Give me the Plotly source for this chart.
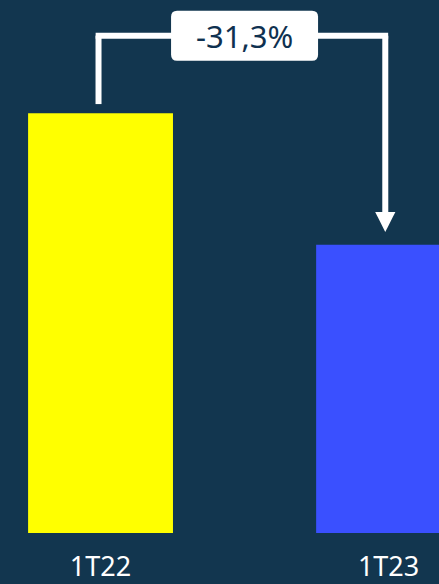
import plotly.graph_objects as go

categories = ["1T22", "1T23"]
values = [100.0, 68.7]
bar_colors = ["#FFFF00", "#3A50FF"]
change_label = "-31,3%"

BG = "#12364f"
WHITE = "#ffffff"
TEXT_DARK = "#0f3150"

ymax = values[0] * 1.27
line_top = values[0] * 1.185
left_start = values[0] * 1.022
tip = values[1] + 3.0
head_h = 4.8
head_hw = 0.035

fig = go.Figure()
fig.add_trace(go.Bar(
    x=[0, 1], y=values, marker=dict(color=bar_colors, line=dict(width=0)),
    width=0.503, hoverinfo="skip"))

line_style = dict(color=WHITE, width=6)
# connector: up from first bar, across, down to second bar
fig.add_shape(type="line", x0=-0.007, x1=-0.007, y0=left_start, y1=line_top, line=line_style)
fig.add_shape(type="line", x0=-0.017, x1=0.9985, y0=line_top, y1=line_top, line=line_style)
fig.add_shape(type="line", x0=0.9885, x1=0.9885, y0=line_top, y1=tip + head_h - 0.2, line=line_style)
fig.add_shape(type="path",
              path=f"M {0.9885-head_hw},{tip+head_h} L {0.9885+head_hw},{tip+head_h} L 0.9885,{tip} Z",
              fillcolor=WHITE, line=dict(width=0))

# rounded label box (pixel-sized, anchored at data point)
w, h, r = 147, 50, 6
hw, hh = w / 2, h / 2
box = (f"M {-hw+r},{-hh} L {hw-r},{-hh} Q {hw},{-hh} {hw},{-hh+r} "
       f"L {hw},{hh-r} Q {hw},{hh} {hw-r},{hh} L {-hw+r},{hh} Q {-hw},{hh} {-hw},{hh-r} "
       f"L {-hw},{-hh+r} Q {-hw},{-hh} {-hw+r},{-hh} Z")
fig.add_shape(type="path", xsizemode="pixel", ysizemode="pixel",
              xanchor=0.5, yanchor=line_top, path=box,
              fillcolor=WHITE, line=dict(width=0))
fig.add_annotation(x=0.5, y=line_top, text=change_label, showarrow=False,
                   font=dict(family="Noto Sans", size=31, color=TEXT_DARK),
                   xanchor="center", yanchor="middle")

fig.update_layout(
    width=439, height=584,
    margin=dict(l=0, r=0, t=0, b=51),
    paper_bgcolor=BG, plot_bgcolor=BG,
    showlegend=False,
    xaxis=dict(range=[-0.349, 1.175], tickvals=[0, 1], ticktext=categories,
               showgrid=False, zeroline=False, showline=False, ticks="",
               tickfont=dict(family="Noto Sans", size=27, color=WHITE),
               ticklabelstandoff=15, automargin=False, fixedrange=True),
    yaxis=dict(range=[0, ymax], visible=False, fixedrange=True, automargin=False),
)

fig.write_html("out.html", config={"displayModeBar": False},
               post_script="document.body.style.margin='0';document.body.style.overflow='hidden';")
